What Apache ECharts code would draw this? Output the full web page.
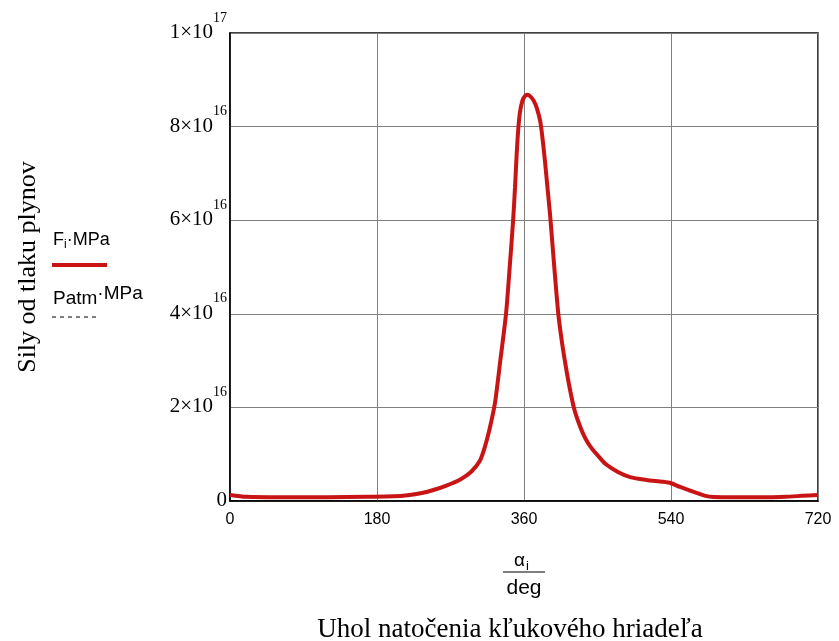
<!DOCTYPE html>
<html><head><meta charset="utf-8">
<script src="https://cdn.jsdelivr.net/npm/echarts@6/dist/echarts.min.js"></script>
<style>html,body{margin:0;padding:0;background:#fff}#c{width:839px;height:641px}</style>
</head><body><div id="c"></div>
<script>
var angles = [0,20,60,120,168,200,220,235,250,265,282,295,306,312,318,324.5,331,338,342.5,346.7,349,351,353,355,358,361,364,368,372,376,380,383,386,389,392,395,398,402,406,410,415,421,426,432,438,444,450,460,475,490,510,530,540,551,562,572,582,592,620,660,680,700,720];
var forces = [1.3e15,0.9e15,0.8e15,0.8e15,0.9e15,1.0e15,1.3e15,1.7e15,2.4e15,3.3e15,4.6e15,6.2e15,8.6e15,1.15e16,1.55e16,2.1e16,3.0e16,4.0e16,5.0e16,6.0e16,6.7e16,7.4e16,7.95e16,8.3e16,8.55e16,8.65e16,8.68e16,8.64e16,8.55e16,8.38e16,8.1e16,7.7e16,7.2e16,6.65e16,6.1e16,5.45e16,4.8e16,4.0e16,3.45e16,3.0e16,2.5e16,2.0e16,1.72e16,1.45e16,1.25e16,1.1e16,9.8e15,7.9e15,6.2e15,5.1e15,4.5e15,4.1e15,3.8e15,3e15,2.3e15,1.7e15,1.1e15,0.85e15,0.8e15,0.8e15,0.9e15,1.1e15,1.3e15];
var patmAngles = [0,720];
var patmValues = [1e11,1e11];

var chart = echarts.init(document.getElementById('c'));
function yfmt(v){
  if (v === 0) return '{a|0}';
  var e = Math.floor(Math.log10(v)+1e-9);
  var m = Math.round(v/Math.pow(10,e));
  return '{a|' + m + '×10}{b|' + e + '}';
}
chart.setOption({
  animation:false,
  grid:{left:230,right:21,top:33,bottom:140,show:true,borderColor:'#000',borderWidth:1.5},
  xAxis:{type:'value',min:0,max:720,interval:180,
    axisLine:{show:true,lineStyle:{color:'#000',width:1.5}},
    axisTick:{show:false},
    splitLine:{show:true,lineStyle:{color:'#808080',width:1}},
    axisLabel:{fontFamily:'Liberation Sans',fontSize:16,color:'#000',margin:11}},
  yAxis:{type:'value',min:0,max:1e17,interval:2e16,
    axisLine:{show:true,lineStyle:{color:'#000',width:1.5}},
    axisTick:{show:false},
    splitLine:{show:true,lineStyle:{color:'#808080',width:1}},
    axisLabel:{formatter:yfmt,margin:3,verticalAlign:'bottom',
      rich:{a:{fontFamily:'Liberation Serif',fontSize:21,color:'#000',verticalAlign:'bottom',padding:[0,0,-10,0]},
            b:{fontFamily:'Liberation Serif',fontSize:14,color:'#000',verticalAlign:'top',padding:[0,0,8,0]}}}},
  series:[
    {name:'F',type:'line',data:angles.map(function(a,i){return [a,forces[i]];}),
     showSymbol:false,smooth:0.25,lineStyle:{color:'#c81414',width:4},z:3},
    {name:'patm',type:'line',data:patmAngles.map(function(a,i){return [a,patmValues[i]];}),
     showSymbol:false,lineStyle:{color:'#000',width:1,type:'dotted'},z:2}
  ],
  graphic:[
    {type:'text',x:28,y:267,rotation:Math.PI/2,style:{text:'Sily od tlaku plynov',font:'26px "Liberation Serif"',fill:'#000',align:'center',verticalAlign:'middle'}},
    {type:'text',x:53,y:240,style:{text:'{a|F}{s|i}{a|·MPa}',rich:{a:{font:'18px "Liberation Sans"',fill:'#000'},s:{font:'12px "Liberation Sans"',fill:'#000',padding:[9,0,0,0]}},verticalAlign:'middle'}},
    {type:'line',shape:{x1:52,y1:265,x2:107,y2:265},style:{stroke:'#c81414',lineWidth:4}},
    {type:'text',x:53,y:294,style:{text:'{a|Patm}{b|·MPa}',rich:{a:{font:'19px "Liberation Sans"',fill:'#000',padding:[10,0,0,0]},b:{font:'19px "Liberation Sans"',fill:'#000'}},verticalAlign:'middle'}},
    {type:'line',shape:{x1:52,y1:317,x2:98,y2:317},style:{stroke:'#000',lineWidth:1,lineDash:[4,4]}},
    {type:'text',x:525,y:561,style:{text:'α',font:'19px "Liberation Sans"',fill:'#000',align:'right',verticalAlign:'middle'}},
    {type:'text',x:526,y:566,style:{text:'i',font:'13px "Liberation Sans"',fill:'#000',align:'left',verticalAlign:'middle'}},
    {type:'line',shape:{x1:503,y1:572,x2:545,y2:572},style:{stroke:'#000',lineWidth:1}},
    {type:'text',x:524,y:588,style:{text:'deg',font:'21px "Liberation Sans"',fill:'#000',align:'center',verticalAlign:'middle'}},
    {type:'text',x:510,y:630,style:{text:'Uhol natočenia kľukového hriadeľa',font:'27px "Liberation Serif"',fill:'#000',align:'center',verticalAlign:'middle'}}
  ]
});
</script></body></html>
